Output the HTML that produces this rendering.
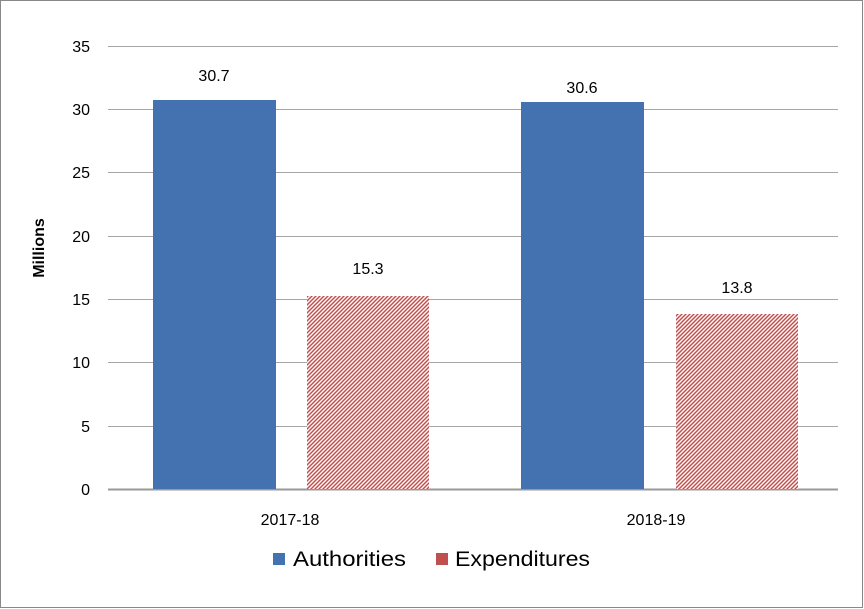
<!DOCTYPE html>
<html><head><style>body{margin:0;background:#fff}svg{display:block}</style></head><body>
<svg width="864" height="609" viewBox="0 0 864 609" xmlns="http://www.w3.org/2000/svg" font-family="Liberation Sans, sans-serif">
<defs>
<pattern id="h" patternUnits="userSpaceOnUse" width="4" height="4">
<rect width="4" height="4" fill="#fff"/>
<path d="M-1,1 L1,-1 M0,4 L4,0 M3,5 L5,3" stroke="#c0504d" stroke-width="1.5"/>
</pattern>
</defs>
<rect x="0.5" y="0.5" width="862" height="607" fill="#fff" stroke="#888"/>
<g stroke="#a6a6a6" stroke-width="1">
<line x1="108" x2="838" y1="46.5" y2="46.5"/>
<line x1="108" x2="838" y1="109.5" y2="109.5"/>
<line x1="108" x2="838" y1="172.5" y2="172.5"/>
<line x1="108" x2="838" y1="236.5" y2="236.5"/>
<line x1="108" x2="838" y1="299.5" y2="299.5"/>
<line x1="108" x2="838" y1="362.5" y2="362.5"/>
<line x1="108" x2="838" y1="426.5" y2="426.5"/>
</g>
<line x1="108" x2="838" y1="489.5" y2="489.5" stroke="#999" stroke-width="2"/>
<g font-size="16" fill="#000" text-anchor="end">
<text x="90" y="52">35</text><text x="90" y="115">30</text><text x="90" y="178">25</text>
<text x="90" y="242">20</text><text x="90" y="305">15</text><text x="90" y="368">10</text>
<text x="90" y="432">5</text><text x="90" y="495">0</text>
</g>
<text transform="translate(44,248) rotate(-90)" font-size="16" font-weight="bold" text-anchor="middle">Millions</text>
<rect x="153" y="100" width="123" height="389" fill="#4472b0"/>
<rect x="307" y="296" width="122" height="193" fill="url(#h)"/>
<rect x="521" y="102" width="123" height="387" fill="#4472b0"/>
<rect x="676" y="314" width="122" height="175" fill="url(#h)"/>
<g font-size="16" text-anchor="middle">
<text x="214" y="81">30.7</text><text x="368" y="274">15.3</text>
<text x="582" y="93">30.6</text><text x="737" y="293">13.8</text>
<text x="290" y="525">2017-18</text><text x="656" y="525">2018-19</text>
</g>
<rect x="273" y="553" width="12" height="12" fill="#4472b0"/>
<text x="293" y="566" font-size="21" textLength="113" lengthAdjust="spacingAndGlyphs">Authorities</text>
<rect x="436" y="553" width="12" height="12" fill="#c0504d"/>
<text x="455" y="566" font-size="21" textLength="135" lengthAdjust="spacingAndGlyphs">Expenditures</text>
</svg>
</body></html>
